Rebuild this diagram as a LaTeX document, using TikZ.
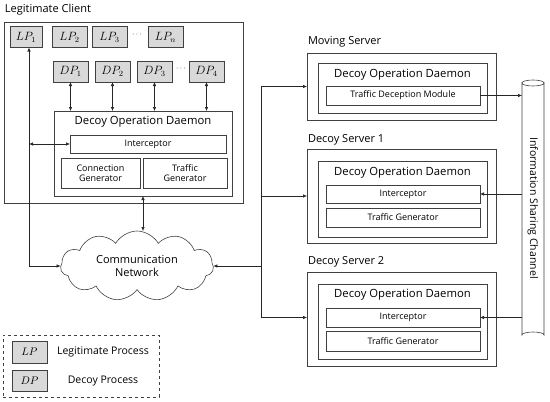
\documentclass[tikz,border=0pt]{standalone}
\usepackage{fontspec}
\setmainfont{Open Sans}
\usetikzlibrary{shapes.symbols,arrows.meta,calc}
\begin{document}
\begin{tikzpicture}[x=1pt,y=-1pt,
  line width=0.6pt,
  every node/.style={inner sep=0pt,outer sep=0pt},
  box/.style={draw=black!75},
  proc/.style={draw=black!75,fill=black!15,minimum height=21pt,font=\fontsize{12}{14}\selectfont},
  title/.style={font=\fontsize{11.3}{13}\selectfont},
  small/.style={font=\fontsize{9}{10.5}\selectfont,align=center},
  lbl/.style={font=\fontsize{11}{13}\selectfont,anchor=west},
  arr/.style={-{Latex[length=4pt,width=3.5pt]},draw=black!85},
  darr/.style={{Latex[length=4pt,width=3.5pt]}-{Latex[length=4pt,width=3.5pt]},draw=black!85},
  ln/.style={draw=black!85}]
\useasboundingbox (0,0) rectangle (550,402);

% Legitimate client
\node[lbl] (clientlbl) at (5,10) {Legitimate Client};
\node[box,minimum width=239pt,minimum height=181pt] (client) at (123.5,112.5) {};
\node[proc,minimum width=32pt] (lp1) at (26,37) {$LP_1$};
\node[proc,minimum width=35pt] (lp2) at (69.5,37) {$LP_2$};
\node[proc,minimum width=35pt] (lp3) at (109.5,37) {$LP_3$};
\node (lpdots) at (137,35) {\fontsize{8}{10}\selectfont$\cdots$};
\node[proc,minimum width=35pt] (lpn) at (165.5,37) {$LP_n$};
\node[proc,minimum width=35pt] (dp1) at (70.5,71.5) {$DP_1$};
\node[proc,minimum width=35pt] (dp2) at (112.5,71.5) {$DP_2$};
\node[proc,minimum width=35pt] (dp3) at (154.5,71.5) {$DP_3$};
\node (dpdots) at (181,69) {\fontsize{8}{10}\selectfont$\cdots$};
\node[proc,minimum width=35pt] (dp4) at (206.5,71.5) {$DP_4$};

\node[box,minimum width=178pt,minimum height=85pt] (daemon) at (143,153.5) {};
\node[title] (daemontitle) at (143,122) {Decoy Operation Daemon};
\node[box,small,minimum width=156pt,minimum height=18pt] (intc) at (148,144) {Interceptor};
\node[box,small,minimum width=79pt,minimum height=30pt] (cgen) at (100.5,173) {Connection\\Generator};
\node[box,small,minimum width=84pt,minimum height=30pt] (tgen) at (185,173) {Traffic\\Generator};

\foreach \d in {dp1,dp2,dp3,dp4}{
  \draw[darr] (\d.south) -- (\d.south |- daemon.north);
}

% cloud
\node[cloud,cloud puffs=11,cloud puff arc=120,aspect=2.3,draw=black!75,minimum width=153pt,minimum height=70pt] (cloud) at (137,266) {};
\node[align=center,font=\fontsize{11}{13}\selectfont] (cloudtxt) at (137,266) {Communication\\Network};

\coordinate (lx) at (29,0);
\draw[darr] (lp1.south -| lx) |- (cloud.west);
\draw[darr] (intc.west -| lx) -- (intc.west);
\draw[darr] (daemon.south) -- (daemon.south |- cloud.north);

% servers
\node[lbl] (mslbl) at (308,42) {Moving Server};
\node[box,minimum width=189pt,minimum height=67pt] (ms) at (401.5,86.5) {};
\node[box,minimum width=169pt,minimum height=50pt] (msd) at (402.5,88) {};
\node[title] (msdt) at (402.5,75) {Decoy Operation Daemon};
\node[box,small,minimum width=154pt,minimum height=19pt] (tdm) at (403,95.5) {Traffic Deception Module};

\node[lbl] (d1lbl) at (308,140) {Decoy Server 1};
\node[box,minimum width=189pt,minimum height=94pt] (ds1) at (401.5,196) {};
\node[box,minimum width=169pt,minimum height=76pt] (ds1d) at (402.5,199) {};
\node[title] (ds1t) at (402.5,173) {Decoy Operation Daemon};
\node[box,small,minimum width=154pt,minimum height=18pt] (int1) at (403,194) {Interceptor};
\node[box,small,minimum width=154pt,minimum height=19pt] (tg1) at (403,217.5) {Traffic Generator};

\node[lbl] (d2lbl) at (308,262) {Decoy Server 2};
\node[box,minimum width=189pt,minimum height=94pt] (ds2) at (401.5,319) {};
\node[box,minimum width=169pt,minimum height=75pt] (ds2d) at (402.5,321.5) {};
\node[title] (ds2t) at (402.5,295) {Decoy Operation Daemon};
\node[box,small,minimum width=154pt,minimum height=19pt] (int2) at (403,317.5) {Interceptor};
\node[box,small,minimum width=154pt,minimum height=20pt] (tg2) at (403,341) {Traffic Generator};

\coordinate (bx) at (261,0);
\draw[ln] (ms.west -| bx) -- (int2.west -| bx);
\draw[arr] (ms.west -| bx) -- (ms.west);
\draw[arr] (ds1.west -| bx) -- (ds1.west);
\draw[arr] (int2.west -| bx) -- (ds2.west |- int2.west);
\draw[arr] (cloud.east -| bx) -- (cloud.east);

% information sharing channel (cylinder)
\node[minimum width=22pt,minimum height=252pt] (isc) at (533,209) {};
\draw[box,fill=white] (isc.north west) -- (isc.south west)
  arc[start angle=180,end angle=360,x radius=11pt,y radius=-3pt]
  -- (isc.north east)
  arc[start angle=0,end angle=180,x radius=11pt,y radius=-3pt] -- cycle;
\draw[box] (isc.north west) arc[start angle=180,end angle=360,x radius=11pt,y radius=-3pt];
\node[rotate=-90,font=\fontsize{10.5}{12}\selectfont] (isctxt) at (533,208) {Information Sharing Channel};

\draw[arr] (tdm.east) -- (tdm.east -| isc.west);
\draw[arr] (int1.east -| isc.west) -- (int1.east);
\draw[arr] (int2.east -| isc.west) -- (int2.east);

% legend
\node[draw=black!75,dashed,minimum width=156pt,minimum height=62pt] (legend) at (81,366) {};
\node[proc,minimum width=35pt,minimum height=22pt,font=\fontsize{10.5}{12}\selectfont] (leglp) at (29.5,352) {$LP$};
\node[proc,minimum width=35pt,minimum height=21pt,font=\fontsize{10.5}{12}\selectfont] (legdp) at (29.5,380.5) {$DP$};
\node[font=\fontsize{10.5}{12}\selectfont] (leglpt) at (103,352) {Legitimate Process};
\node[font=\fontsize{10.5}{12}\selectfont] (legdpt) at (103,381) {Decoy Process};
\end{tikzpicture}
\end{document}
